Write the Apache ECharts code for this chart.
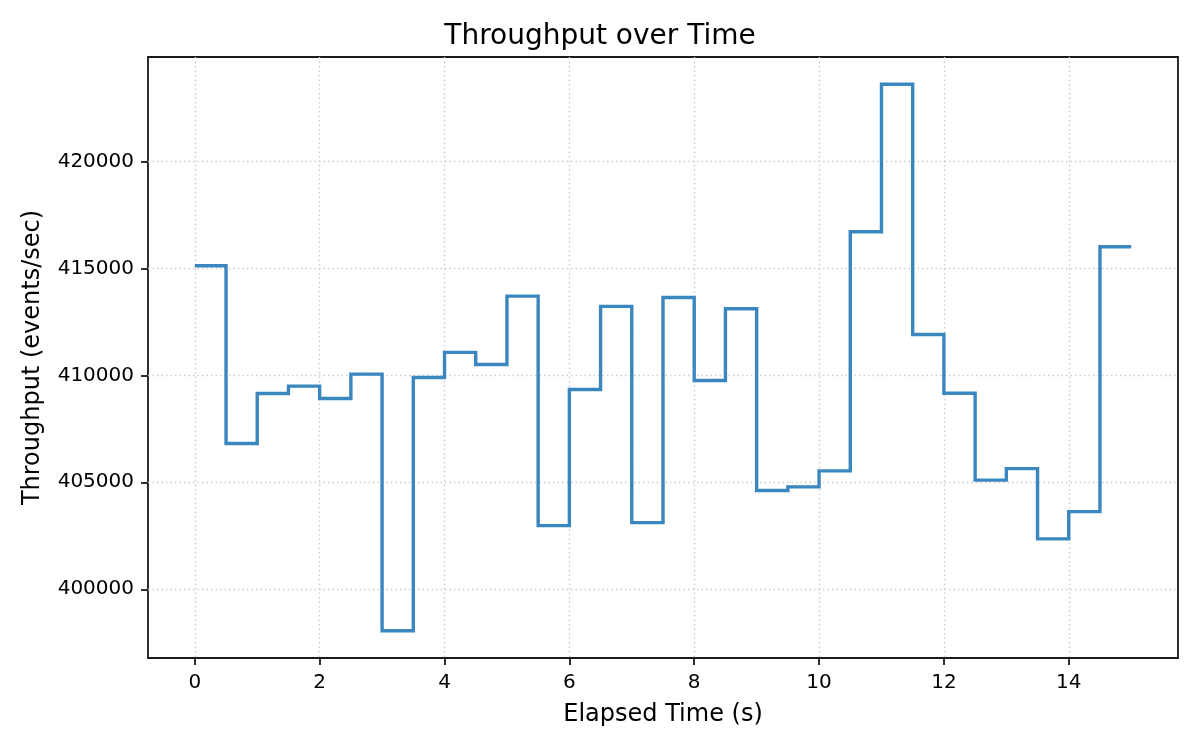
<!DOCTYPE html>
<html>
<head>
<meta charset="utf-8">
<script src="https://cdn.jsdelivr.net/npm/echarts@6/dist/echarts.min.js"></script>
<style>
html,body{margin:0;padding:0;background:#ffffff;}
#chart{width:1200px;height:750px;}
</style>
</head>
<body>
<div id="chart"></div>
<script>
// ---- data ----
const times = [0, 0.5, 1, 1.5, 2, 2.5, 3, 3.5, 4, 4.5, 5, 5.5, 6, 6.5, 7, 7.5,
               8, 8.5, 9, 9.5, 10, 10.5, 11, 11.5, 12, 12.5, 13, 13.5, 14, 14.5, 15];
const throughput = [415120, 406810, 409150, 409495, 408915, 410055, 398065, 409900,
                    411070, 410505, 413700, 402975, 409335, 413220, 403115, 413640,
                    409755, 413110, 404615, 404785, 405535, 416710, 423600, 411910,
                    409165, 405100, 405640, 402355, 403630, 416010, 416010];
const xTicks = [0, 2, 4, 6, 8, 10, 12, 14];
const yTicks = [400000, 405000, 410000, 415000, 420000];
const titleText = 'Throughput over Time';
const xLabel = 'Elapsed Time (s)';
const yLabel = 'Throughput (events/sec)';

// ---- ranges (matplotlib-like 5% margins) ----
const xMinD = Math.min(...times), xMaxD = Math.max(...times);
const xPad = (xMaxD - xMinD) * 0.05;
const yMinD = Math.min(...throughput), yMaxD = Math.max(...throughput);
const yPad = (yMaxD - yMinD) * 0.05;

const FONT = 'DejaVu Sans';
const chart = echarts.init(document.getElementById('chart'), null, {renderer: 'canvas'});
const seriesData = times.map((t, i) => [t, throughput[i]]);

chart.setOption({
  animation: false,
  backgroundColor: '#ffffff',
  title: {
    text: titleText,
    left: 'center',
    top: 23,
    padding: 0,
    textStyle: {fontFamily: FONT, fontSize: 28, fontWeight: 'normal', color: '#000'}
  },
  grid: {
    left: 148, right: 22, top: 57, bottom: 92,
    show: true, borderColor: '#1a1a1a', borderWidth: 1.8, backgroundColor: 'transparent',
    containLabel: false
  },
  xAxis: {
    type: 'value',
    min: xMinD - xPad,
    max: xMaxD + xPad,
    name: xLabel,
    nameLocation: 'middle',
    nameGap: 45,
    nameTextStyle: {fontFamily: FONT, fontSize: 24, color: '#000'},
    axisLine: {show: false, onZero: false},
    axisTick: {show: true, inside: false, length: 7, lineStyle: {color: '#1a1a1a', width: 1.8}, customValues: xTicks},
    axisLabel: {show: true, margin: 15, fontFamily: FONT, fontSize: 20, color: '#000',
                customValues: xTicks, formatter: v => String(v)},
    splitLine: {show: true,
                lineStyle: {color: '#cccccc', width: 1.4, type: [1.5, 3]}}
  },
  yAxis: {
    type: 'value',
    min: yMinD - yPad,
    max: yMaxD + yPad,
    name: yLabel,
    nameLocation: 'middle',
    nameGap: 103,
    nameRotate: 90,
    nameTextStyle: {fontFamily: FONT, fontSize: 24, color: '#000'},
    axisLine: {show: false, onZero: false},
    axisTick: {show: true, inside: false, length: 7, lineStyle: {color: '#1a1a1a', width: 1.8}, customValues: yTicks},
    axisLabel: {show: true, margin: 14, fontFamily: FONT, fontSize: 20, color: '#000',
                customValues: yTicks, formatter: v => String(v)},
    splitLine: {show: true,
                lineStyle: {color: '#cccccc', width: 1.4, type: [1.5, 3]}}
  },
  series: [{
    type: 'line',
    step: 'end',
    data: seriesData,
    showSymbol: false,
    symbol: 'none',
    lineStyle: {color: '#3a87bf', width: 3.4, join: 'miter', cap: 'butt'},
    itemStyle: {color: '#3a87bf'},
    clip: true
  }]
});
</script>
</body>
</html>
